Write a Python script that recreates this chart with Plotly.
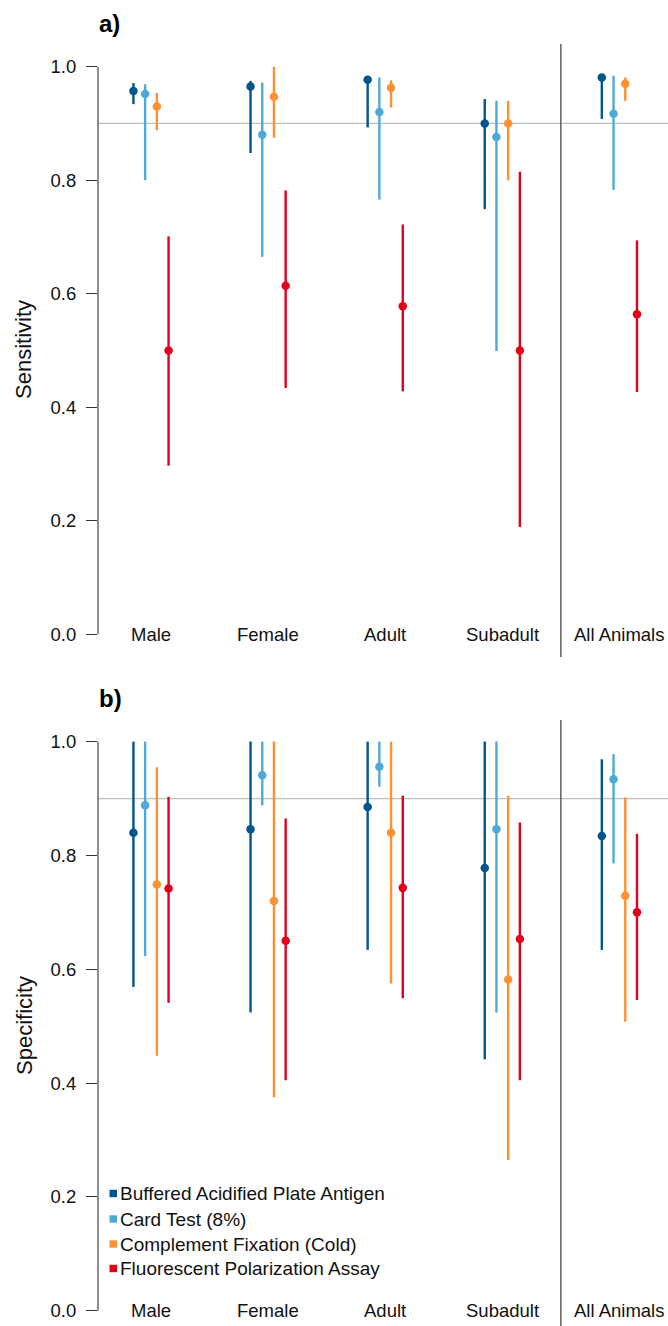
import plotly.graph_objects as go

# ---------------- data ----------------
groups = ["Male", "Female", "Adult", "Subadult", "All Animals"]
tests = ["Buffered Acidified Plate Antigen", "Card Test (8%)",
         "Complement Fixation (Cold)", "Fluorescent Polarization Assay"]
colors = ["#00558C", "#4DAAD8", "#FF9033", "#E2001D"]

# Sensitivity (panel a): estimate, lower CI, upper CI for each test across groups
sens_bapa = [0.957, 0.965, 0.977, 0.900, 0.981]
sens_bapa_lo = [0.934, 0.848, 0.893, 0.749, 0.908]
sens_bapa_hi = [0.971, 0.975, 0.981, 0.943, 0.985]
sens_card = [0.952, 0.880, 0.920, 0.876, 0.917]
sens_card_lo = [0.800, 0.665, 0.766, 0.499, 0.783]
sens_card_hi = [0.969, 0.972, 0.981, 0.940, 0.984]
sens_cf = [0.930, 0.947, 0.963, 0.900, 0.970]
sens_cf_lo = [0.888, 0.875, 0.928, 0.800, 0.940]
sens_cf_hi = [0.954, 1.000, 0.976, 0.940, 0.981]
sens_fpa = [0.500, 0.614, 0.578, 0.500, 0.564]
sens_fpa_lo = [0.297, 0.434, 0.428, 0.189, 0.427]
sens_fpa_hi = [0.701, 0.782, 0.722, 0.815, 0.694]

# Specificity (panel b)
spec_bapa = [0.840, 0.846, 0.885, 0.778, 0.834]
spec_bapa_lo = [0.569, 0.524, 0.634, 0.442, 0.634]
spec_bapa_hi = [1.000, 1.000, 1.000, 1.000, 0.969]
spec_card = [0.888, 0.941, 0.956, 0.846, 0.934]
spec_card_lo = [0.623, 0.888, 0.921, 0.524, 0.786]
spec_card_hi = [1.000, 1.000, 1.000, 1.000, 0.978]
spec_cf = [0.749, 0.720, 0.840, 0.582, 0.729]
spec_cf_lo = [0.448, 0.375, 0.575, 0.265, 0.508]
spec_cf_hi = [0.955, 1.000, 1.000, 0.905, 0.902]
spec_fpa = [0.742, 0.650, 0.743, 0.653, 0.700]
spec_fpa_lo = [0.541, 0.405, 0.549, 0.405, 0.546]
spec_fpa_hi = [0.903, 0.865, 0.905, 0.858, 0.838]

threshold = 0.9
yticks = [0.0, 0.2, 0.4, 0.6, 0.8, 1.0]
ytick_labels = ["0.0", "0.2", "0.4", "0.6", "0.8", "1.0"]

panels = [
    ("Sensitivity", "a)", [(sens_bapa, sens_bapa_lo, sens_bapa_hi),
                          (sens_card, sens_card_lo, sens_card_hi),
                          (sens_cf, sens_cf_lo, sens_cf_hi),
                          (sens_fpa, sens_fpa_lo, sens_fpa_hi)]),
    ("Specificity", "b)", [(spec_bapa, spec_bapa_lo, spec_bapa_hi),
                          (spec_card, spec_card_lo, spec_card_hi),
                          (spec_cf, spec_cf_lo, spec_cf_hi),
                          (spec_fpa, spec_fpa_lo, spec_fpa_hi)]),
]

# ---------------- layout constants ----------------
W, H = 668, 1326
ML = 98
PW = W - ML
offsets = [-0.15, -0.05, 0.05, 0.15]
FONT = "Liberation Sans, Arial, sans-serif"
TXT = "#111111"


def py(px):
    """pixel row -> paper y"""
    return 1 - px / H


def pxx(px):
    """pixel column -> paper x"""
    return (px - ML) / PW


fig = go.Figure()
xpos = list(range(1, len(groups) + 1))

for p, (title, tag, series) in enumerate(panels):
    xa = "x" if p == 0 else "x2"
    ya = "y" if p == 0 else "y2"
    for i, (est, lo, hi) in enumerate(series):
        fig.add_trace(go.Scatter(
            x=[x + offsets[i] for x in xpos], y=est,
            mode="markers",
            marker=dict(color=colors[i], size=8.5, line=dict(width=0)),
            error_y=dict(type="data", symmetric=False,
                         array=[h - e for h, e in zip(hi, est)],
                         arrayminus=[e - l for e, l in zip(est, lo)],
                         color=colors[i], thickness=2.4, width=0),
            name=tests[i], showlegend=False, xaxis=xa, yaxis=ya,
        ))

    # threshold line
    fig.add_shape(type="line", xref=f"{xa} domain", yref=ya, x0=0, x1=1,
                  y0=threshold, y1=threshold,
                  line=dict(color="#BEBEBE", width=1.2), layer="below")
    # separator before All Animals
    fig.add_shape(type="line", xref=xa, yref=f"{ya} domain", x0=4.5, x1=4.5,
                  y0=0, y1=1, line=dict(color="#555555", width=1.4))
    # y axis line (0..1 only)
    fig.add_shape(type="line", xref=f"{xa} domain", yref=ya, x0=0, x1=0,
                  y0=0, y1=1, line=dict(color="#333333", width=1.1))
    # category labels at y=0
    for g, x in zip(groups, xpos):
        fig.add_annotation(x=x, y=0, xref=xa, yref=ya, text=g, showarrow=False,
                           xanchor="center", yanchor="middle",
                           font=dict(family=FONT, size=18.5, color=TXT))

# panel tags and axis titles
fig.add_annotation(x=pxx(97), y=py(23), xref="paper", yref="paper", text="<b>a)</b>",
                   showarrow=False, xanchor="left", yanchor="middle",
                   font=dict(family=FONT, size=24, color="#000000"))
fig.add_annotation(x=pxx(97), y=py(698), xref="paper", yref="paper", text="<b>b)</b>",
                   showarrow=False, xanchor="left", yanchor="middle",
                   font=dict(family=FONT, size=24, color="#000000"))
fig.add_annotation(x=pxx(24), y=py(350), xref="paper", yref="paper", text="Sensitivity",
                   showarrow=False, textangle=-90, xanchor="center", yanchor="middle",
                   font=dict(family=FONT, size=22, color=TXT))
fig.add_annotation(x=pxx(24), y=py(1026), xref="paper", yref="paper", text="Specificity",
                   showarrow=False, textangle=-90, xanchor="center", yanchor="middle",
                   font=dict(family=FONT, size=22, color=TXT))

# legend (manual, bottom-left of panel b)
leg_rows = [1193.5, 1219, 1244, 1268.5]
for i, name in enumerate(tests):
    yc = leg_rows[i]
    fig.add_shape(type="rect", xref="paper", yref="paper",
                  x0=pxx(109.5), x1=pxx(117), y0=py(yc + 3.7), y1=py(yc - 3.7),
                  fillcolor=colors[i], line=dict(width=0))
    fig.add_annotation(x=pxx(118), y=py(yc), xref="paper", yref="paper", text=name,
                       showarrow=False, xanchor="left", yanchor="middle",
                       font=dict(family=FONT, size=19, color=TXT))

xr = [0.5474, 5.415]
yaxis_common = dict(tickmode="array", tickvals=yticks, ticktext=ytick_labels,
                    ticks="outside", ticklen=11, tickwidth=1.1, tickcolor="#333333",
                    showline=False, showgrid=False, zeroline=False,
                    tickfont=dict(family=FONT, size=18.5, color=TXT),
                    ticklabelstandoff=6)
xaxis_common = dict(range=xr, showline=False, showgrid=False, zeroline=False,
                    showticklabels=False, ticks="")

fig.update_layout(
    width=W, height=H,
    margin=dict(l=ML, r=0, t=0, b=0),
    paper_bgcolor="white", plot_bgcolor="white",
    showlegend=False,
    xaxis=dict(**xaxis_common, domain=[0, 1], anchor="y"),
    xaxis2=dict(**xaxis_common, domain=[0, 1], anchor="y2"),
    yaxis=dict(**yaxis_common, range=[-0.04, 1.04], domain=[py(657), py(44)], anchor="x"),
    yaxis2=dict(**yaxis_common, range=[-0.0269, 1.038], domain=[0, py(720)], anchor="x2"),
)

fig.write_html("out.html")
